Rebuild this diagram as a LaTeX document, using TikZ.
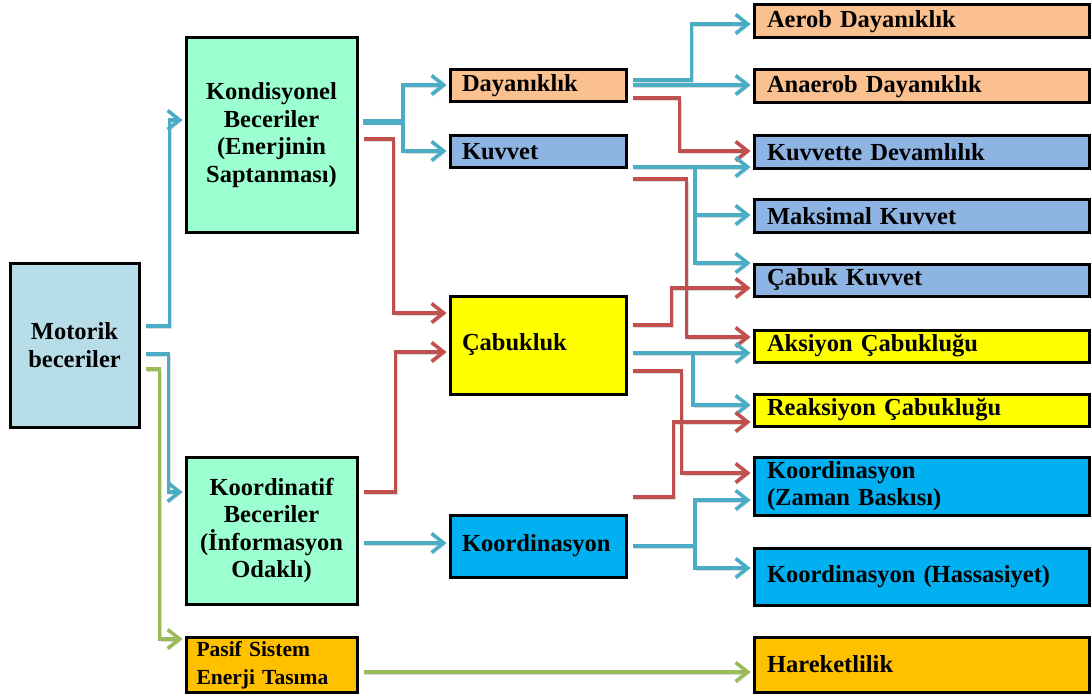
\documentclass[tikz,border=0pt]{standalone}
\usepackage{fontspec}
\setmainfont{Liberation Serif}
\usetikzlibrary{arrows.meta}
\definecolor{cMot}{HTML}{B7DEE8}
\definecolor{cMint}{HTML}{9BFFCF}
\definecolor{cPeach}{HTML}{FAC090}
\definecolor{cSteel}{HTML}{8EB4E3}
\definecolor{cYel}{HTML}{FFFF00}
\definecolor{cCyan}{HTML}{00B0F0}
\definecolor{cOrg}{HTML}{FFC000}
\definecolor{lBlue}{HTML}{4BACC6}
\definecolor{lRed}{HTML}{C0504D}
\definecolor{lGreen}{HTML}{9BBB59}
\tikzset{
  box/.style={draw=black, line width=3pt, inner sep=0pt, font=\fontsize{24.5}{27.5}\selectfont\bfseries},
  cbox/.style={box, align=center},
  mbox/.style={box, text width=152pt, inner xsep=12pt, align=left, minimum width=176pt},
  rbox/.style={box, text width=309pt, inner xsep=13pt, align=left, minimum width=335pt},
  conn/.style={line width=3.6pt, shorten <=5pt, shorten >=2pt,
     -{Straight Barb[length=12pt, width=19pt, line width=3.6pt]},
     preaction={draw=black!40, opacity=0.35, transform canvas={shift={(1.5pt,-2pt)}}}},
  bl/.style={conn, draw=lBlue},
  rd/.style={conn, draw=lRed},
  gr/.style={conn, draw=lGreen},
  trunk/.style={line width=6pt, draw=lBlue, shorten <=4pt,
     preaction={draw=black!40, opacity=0.35, transform canvas={shift={(1.5pt,-2pt)}}}}
}
\begin{document}
\begin{tikzpicture}[x=1pt,y=-1pt]
\useasboundingbox (0,0) rectangle (1092,695);
% left column
\node[cbox, fill=cMot, minimum width=129pt, minimum height=164pt] (mot) at (74.5,345) {Motorik\\beceriler};
\node[cbox, fill=cMint, minimum width=171pt, minimum height=194pt] (kon) at (271.5,135) {Kondisyonel\\Beceriler\\(Enerjinin\\Saptanması)};
\node[cbox, fill=cMint, minimum width=171pt, minimum height=147pt] (koo) at (271.5,530.5) {Koordinatif\\Beceriler\\(İnformasyon\\Odaklı)};
\node[box, fill=cOrg, text width=150pt, inner xsep=10.5pt, align=left, minimum width=171pt, minimum height=55pt, font=\fontsize{21.5}{27.5}\selectfont\bfseries] (pas) at (271.5,665) {Pasif Sistem\\Enerji Tasıma};
% middle column
\node[mbox, fill=cPeach, minimum height=32pt] (day) at (538,86) {Dayanıklık};
\node[mbox, fill=cSteel, minimum height=32pt] (kuv) at (538,152) {Kuvvet};
\node[mbox, fill=cYel, minimum height=98pt] (cab) at (538,345) {Çabukluk};
\node[mbox, fill=cCyan, minimum height=62pt] (kor) at (538,546) {Koordinasyon};
% right column
\node[rbox, fill=cPeach, minimum height=33pt] (aer) at (921.5,21.5) {Aerob Dayanıklık};
\node[rbox, fill=cPeach, minimum height=33pt] (ana) at (921.5,86.5) {Anaerob Dayanıklık};
\node[rbox, fill=cSteel, minimum height=33pt] (kdv) at (921.5,152.5) {Kuvvette Devamlılık};
\node[rbox, fill=cSteel, minimum height=32pt] (mak) at (921.5,216) {Maksimal Kuvvet};
\node[rbox, fill=cSteel, minimum height=32pt] (cku) at (921.5,280) {Çabuk Kuvvet};
\node[rbox, fill=cYel, minimum height=32pt] (aks) at (921.5,346) {Aksiyon Çabukluğu};
\node[rbox, fill=cYel, minimum height=32pt] (rea) at (921.5,410) {Reaksiyon Çabukluğu};
\node[rbox, fill=cCyan, minimum height=58pt] (kzb) at (921.5,486) {Koordinasyon\\(Zaman Baskısı)};
\node[rbox, fill=cCyan, minimum height=57pt] (kha) at (921.5,576.5) {Koordinasyon (Hassasiyet)};
\node[rbox, fill=cOrg, minimum height=55pt] (har) at (921.5,664.5) {Hareketlilik};
% connectors from Motorik
\draw[bl] (mot.east |- 0,326) -- ++(29,0) |- (kon.west |- 0,120);
\draw[bl] (mot.east |- 0,354) -- ++(28,0) |- (koo.west |- 0,492);
\draw[gr] (mot.east |- 0,369) -- ++(19,0) |- (pas.west |- 0,639);
% Kondisyonel
\coordinate (j1) at (403,122);
\draw[trunk] (kon.east |- 0,122) -- (j1);
\draw[bl, shorten <=0pt] (j1) |- (day.west |- 0,85);
\draw[bl, shorten <=0pt] (j1) |- (kuv.west |- 0,151);
\draw[rd] (kon.east |- 0,139) -- ++(35,0) |- (cab.west |- 0,313);
% Koordinatif
\draw[rd] (koo.east |- 0,492) -- ++(37,0) |- (cab.west |- 0,352);
\draw[bl] (koo.east |- 0,543) -- (kor.west |- 0,543);
% Dayaniklik
\draw[bl] (day.east |- 0,80) -- ++(64,0) |- (aer.west |- 0,24);
\draw[bl] (day.east |- 0,85) -- (ana.west |- 0,85);
\draw[rd] (day.east |- 0,98) -- ++(52,0) |- (kdv.west |- 0,151);
% Kuvvet
\coordinate (j2) at (695,167);
\draw[bl] (kuv.east |- 0,167) -- (kdv.west |- 0,167);
\draw[bl, shorten <=0pt] (j2) |- (mak.west |- 0,215);
\draw[bl, shorten <=0pt] (j2) |- (cku.west |- 0,263);
\draw[rd] (kuv.east |- 0,179) -- ++(59,0) |- (aks.west |- 0,337);
% Cabukluk
\draw[rd] (cab.east |- 0,325) -- ++(44,0) |- (cku.west |- 0,288);
\coordinate (j3) at (693,353);
\draw[bl] (cab.east |- 0,353) -- (aks.west |- 0,353);
\draw[bl, shorten <=0pt] (j3) |- (rea.west |- 0,405);
\draw[rd] (cab.east |- 0,371) -- ++(54,0) |- (kzb.west |- 0,473);
% Koordinasyon
\draw[rd] (kor.east |- 0,497) -- ++(46,0) |- (rea.west |- 0,422);
\coordinate (j4) at (695,546);
\draw[bl] (kor.east |- 0,546) -- (j4) |- (kzb.west |- 0,500);
\draw[bl, shorten <=0pt] (j4) |- (kha.west |- 0,568);
% Pasif
\draw[gr] (pas.east |- 0,672) -- (har.west |- 0,672);
\end{tikzpicture}
\end{document}
